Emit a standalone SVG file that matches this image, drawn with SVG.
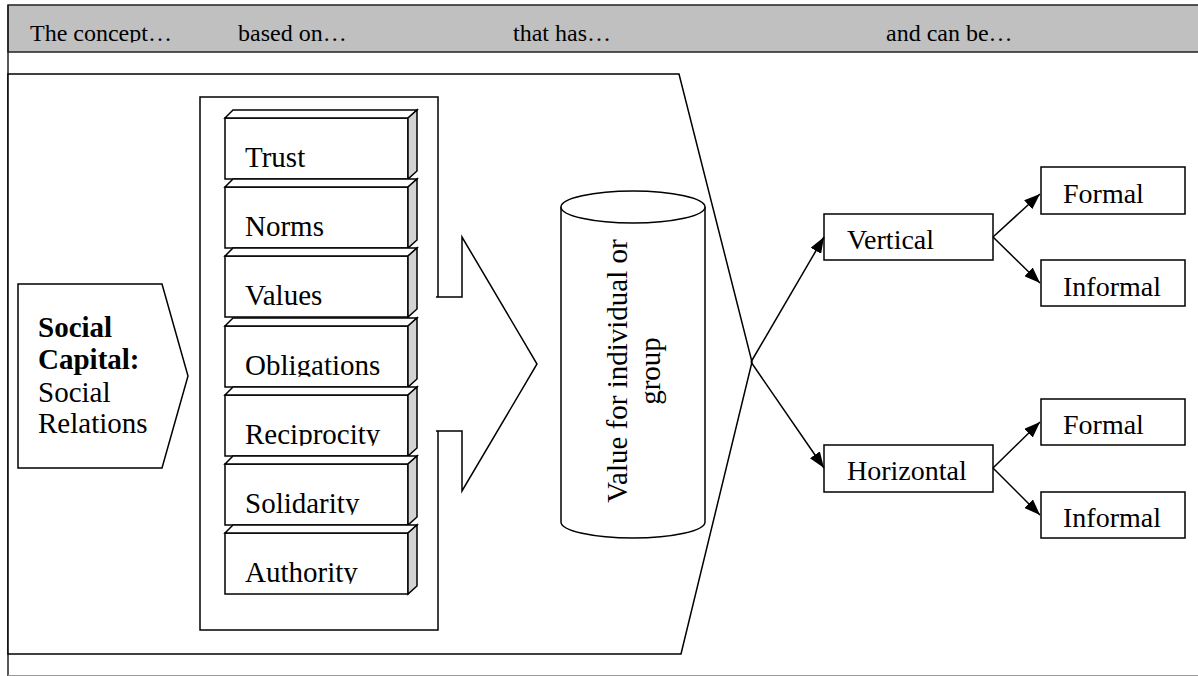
<svg xmlns="http://www.w3.org/2000/svg" xmlns:xlink="http://www.w3.org/1999/xlink" width="1198" height="676" viewBox="0 0 1198 676">
<style>
.ln{stroke:#000;stroke-width:1.5;fill:#fff}
.t{font-family:"Liberation Serif","Times New Roman",serif;fill:#000}
.hd{font-size:24px}
.bk{font-size:29px}
.bx{font-size:28px}
.cut{clip-path:url(#cut)}
.con{stroke:#000;stroke-width:1.5;fill:none;marker-end:url(#ah)}
</style>
<defs>
<clipPath id="cut" clipPathUnits="objectBoundingBox"><rect x="-0.1" y="-0.2" width="1.2" height="1.07"/></clipPath>
<marker id="ah" markerUnits="userSpaceOnUse" markerWidth="16" markerHeight="12" refX="16" refY="6" orient="auto"><path d="M0,0 L16,6 L0,12 z" fill="#000"/></marker>
<g id="blk">
<rect x="0" y="0" width="183" height="61" class="ln"/>
<path d="M0,0 L8,-8 H192 L183,0 z" class="ln"/>
<path d="M183,0 L192,-8 V53 L183,61 z" class="ln" style="fill:#d3d3d3"/>
</g>
</defs>

<g id="frame">
<rect x="8" y="5" width="1200" height="47" fill="#c0c0c0" stroke="#222" stroke-width="1.5"/>
<line x1="8" y1="5" x2="8" y2="676" stroke="#222" stroke-width="1.5"/>
<line x1="8" y1="675.5" x2="1198" y2="675.5" stroke="#999" stroke-width="1.2"/>
<text class="t hd cut" x="30" y="41">The concept…</text>
<text class="t hd cut" x="238" y="41">based on…</text>
<text class="t hd cut" x="513" y="41">that has…</text>
<text class="t hd cut" x="886" y="41">and can be…</text>
</g>

<g id="context">
<path d="M8,74 H679 L752,362 L681,654 H8 z" class="ln"/>
</g>

<g id="social-capital">
<path d="M18,284 H162 L188,376 L162,468 H18 z" class="ln"/>
<text class="t" font-size="29" x="38" y="337" font-weight="bold">Social</text>
<text class="t" font-size="29" x="38" y="369" font-weight="bold">Capital:</text>
<text class="t" font-size="29" x="38" y="402">Social</text>
<text class="t" font-size="29" x="38" y="433">Relations</text>
</g>

<g id="bases">
<rect x="200" y="97" width="238" height="533" class="ln"/>
</g>

<g id="big-arrow">
<path d="M436,297 H462 V237 L537,364 L462,491 V431 H436" class="ln"/>
</g>

<g id="trust"><use xlink:href="#blk" x="225" y="118"/><text class="t bk cut" x="245" y="167">Trust</text></g>
<g id="norms"><use xlink:href="#blk" x="225" y="187"/><text class="t bk cut" x="245" y="236">Norms</text></g>
<g id="values"><use xlink:href="#blk" x="225" y="256"/><text class="t bk cut" x="245" y="305">Values</text></g>
<g id="obligations"><use xlink:href="#blk" x="225" y="326"/><text class="t bk cut" x="245" y="375">Obligations</text></g>
<g id="reciprocity"><use xlink:href="#blk" x="225" y="395"/><text class="t bk cut" x="245" y="444">Reciprocity</text></g>
<g id="solidarity"><use xlink:href="#blk" x="225" y="464"/><text class="t bk cut" x="245" y="513">Solidarity</text></g>
<g id="authority"><use xlink:href="#blk" x="225" y="533"/><text class="t bk cut" x="245" y="582">Authority</text></g>

<g id="value">
<path d="M561,207 V522 A72,16 0 0 0 705,522 V207" class="ln"/>
<ellipse cx="633" cy="207" rx="72" ry="16" class="ln"/>
<g transform="translate(627,371) rotate(-90)">
<text class="t bk" x="0" y="0" text-anchor="middle">Value for individual or</text>
<text class="t bk" x="0" y="33" text-anchor="middle">group</text>
</g>
</g>

<g id="vertical"><rect x="824" y="214" width="169" height="46" class="ln"/><text class="t bx cut" x="847" y="249">Vertical</text></g>
<g id="formal-v"><rect x="1041" y="167" width="144" height="47" class="ln"/><text class="t bx cut" x="1063" y="203">Formal</text></g>
<g id="informal-v"><rect x="1041" y="260" width="144" height="46" class="ln"/><text class="t bx cut" x="1063" y="296">Informal</text></g>
<g id="horizontal"><rect x="824" y="445" width="169" height="47" class="ln"/><text class="t bx cut" x="847" y="480">Horizontal</text></g>
<g id="formal-h"><rect x="1041" y="399" width="144" height="46" class="ln"/><text class="t bx cut" x="1063" y="434">Formal</text></g>
<g id="informal-h"><rect x="1041" y="492" width="144" height="46" class="ln"/><text class="t bx cut" x="1063" y="527">Informal</text></g>

<g id="connectors">
<line x1="751" y1="362" x2="824" y2="237" class="con"/>
<line x1="751" y1="362" x2="824" y2="468" class="con"/>
<line x1="993" y1="237" x2="1040" y2="194" class="con"/>
<line x1="993" y1="237" x2="1040" y2="283" class="con"/>
<line x1="993" y1="468" x2="1040" y2="422" class="con"/>
<line x1="993" y1="468" x2="1040" y2="515" class="con"/>
</g>
</svg>
